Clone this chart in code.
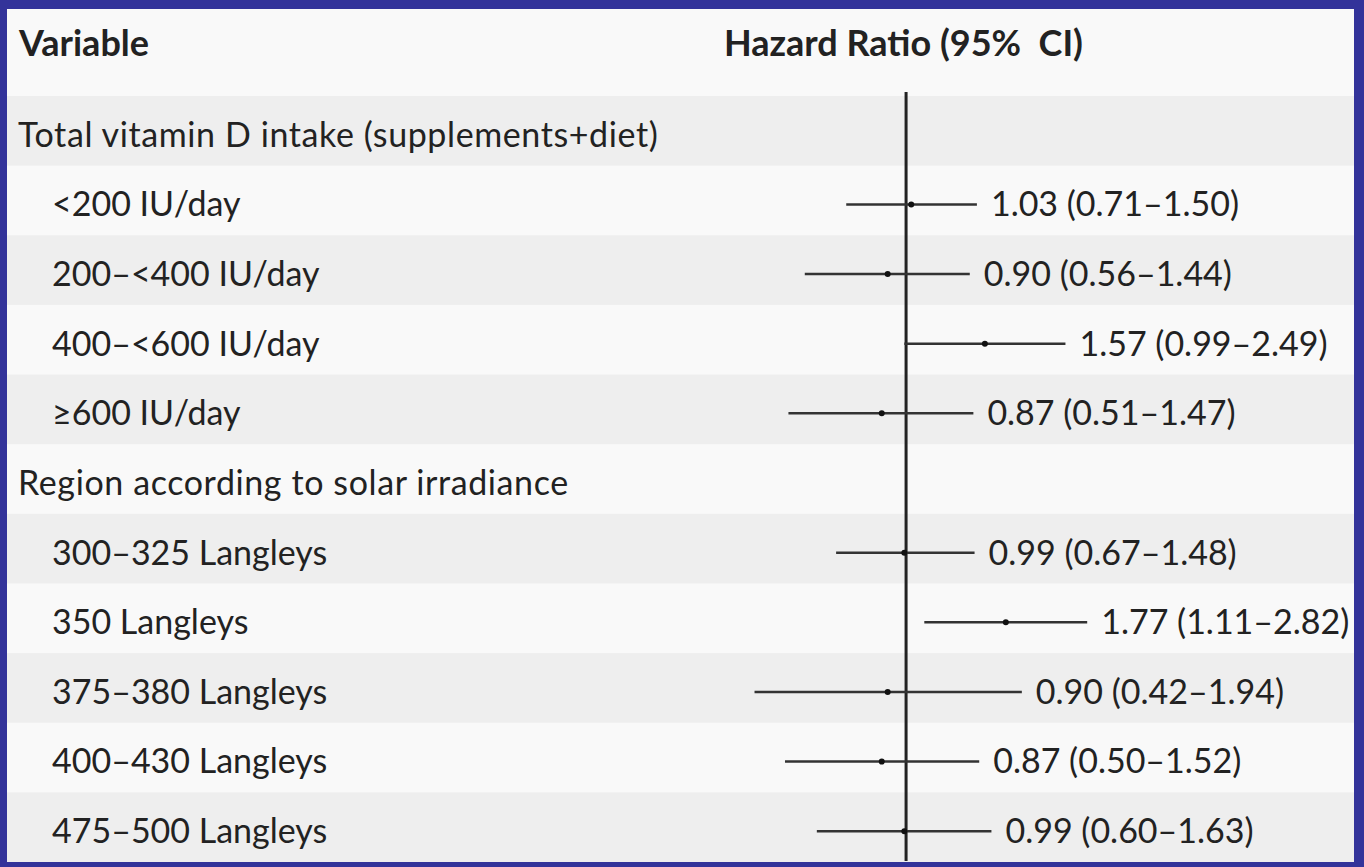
<!DOCTYPE html>
<html>
<head>
<meta charset="utf-8">
<script src="https://cdn.jsdelivr.net/npm/d3@7"></script>
<style>
  body { margin: 0; background: #33339a; }
  text { font-family: Lato, 'Open Sans', sans-serif; fill: #222; white-space: pre; }
</style>
</head>
<body>
<div id="chart"></div>
<script>
// rows, top to bottom
const labels = [
  'Total vitamin D intake (supplements+diet)',
  '<200 IU/day',
  '200–<400 IU/day',
  '400–<600 IU/day',
  '≥600 IU/day',
  'Region according to solar irradiance',
  '300–325 Langleys',
  '350 Langleys',
  '375–380 Langleys',
  '400–430 Langleys',
  '475–500 Langleys'
]
const isGroup = [true, false, false, false, false, true, false, false, false, false, false]
const hr = [null, 1.03, 0.90, 1.57, 0.87, null, 0.99, 1.77, 0.90, 0.87, 0.99]
const lower = [null, 0.71, 0.56, 0.99, 0.51, null, 0.67, 1.11, 0.42, 0.50, 0.60]
const upper = [null, 1.50, 1.44, 2.49, 1.47, null, 1.48, 2.82, 1.94, 1.52, 1.63]

const width = 1364
const height = 867

const svg = d3
  .select('#chart')
  .append('svg')
  .attr('width', width)
  .attr('height', height)

// blue frame + light panel
svg.append('rect').attr('width', width).attr('height', height).attr('fill', '#33339a')
svg
  .append('rect')
  .attr('x', 7)
  .attr('y', 9)
  .attr('width', 1347)
  .attr('height', 852)
  .attr('fill', '#f9f9f9')

const rows = labels.map((l, i) => ({
  label: l,
  group: isGroup[i],
  hr: hr[i],
  lo: lower[i],
  hi: upper[i],
  i: i
}))

const yScale = d3
  .scaleBand()
  .domain(d3.range(labels.length))
  .range([100, 866])

const yMid = d => yScale(d.i) + yScale.bandwidth() / 2

// log scale, 1.0 sits at x=906
const xScale = d3
  .scaleLog()
  .domain([0.4, 3])
  .range([746, 1098])

// alternating stripes
svg
  .selectAll('.stripe')
  .data(rows.filter(d => d.i % 2 === 0))
  .enter()
  .append('rect')
  .attr('class', 'stripe')
  .attr('x', 7)
  .attr('y', d => yScale(d.i) - 4)
  .attr('width', 1347)
  .attr('height', yScale.bandwidth())
  .attr('fill', '#eeeeee')

// headers
svg
  .append('text')
  .attr('x', 19)
  .attr('y', 56)
  .attr('font-size', 36)
  .attr('font-weight', 'bold')
  .text('Variable')

svg
  .append('text')
  .attr('x', 724)
  .attr('y', 56)
  .attr('font-size', 36)
  .attr('font-weight', 'bold')
  .text('Hazard Ratio (95%  CI)')

// reference line at HR = 1
svg
  .append('line')
  .attr('x1', xScale(1))
  .attr('x2', xScale(1))
  .attr('y1', 92)
  .attr('y2', 861)
  .attr('stroke', '#222')
  .attr('stroke-width', 3)

// row labels
svg
  .selectAll('.row-label')
  .data(rows)
  .enter()
  .append('text')
  .attr('class', 'row-label')
  .attr('x', d => (d.group ? 18 : 52))
  .attr('y', yMid)
  .attr('dy', '0.35em')
  .attr('font-size', 34)
  .attr('letter-spacing', d => (d.group ? 0.6 : 0))
  .text(d => d.label)

const est = rows.filter(d => !d.group)

// confidence intervals
svg
  .selectAll('.ci')
  .data(est)
  .enter()
  .append('line')
  .attr('class', 'ci')
  .attr('x1', d => xScale(d.lo))
  .attr('x2', d => xScale(d.hi))
  .attr('y1', yMid)
  .attr('y2', yMid)
  .attr('stroke', '#333')
  .attr('stroke-width', 2.5)

// point estimates
svg
  .selectAll('.point')
  .data(est)
  .enter()
  .append('circle')
  .attr('class', 'point')
  .attr('cx', d => xScale(d.hr))
  .attr('cy', yMid)
  .attr('r', 3)
  .attr('fill', '#111')

// value labels
svg
  .selectAll('.value')
  .data(est)
  .enter()
  .append('text')
  .attr('class', 'value')
  .attr('x', d => xScale(d.hi) + 14)
  .attr('y', yMid)
  .attr('dy', '0.35em')
  .attr('font-size', 34)
  .text(d => d.hr.toFixed(2) + ' (' + d.lo.toFixed(2) + '–' + d.hi.toFixed(2) + ')')
</script>
</body>
</html>
